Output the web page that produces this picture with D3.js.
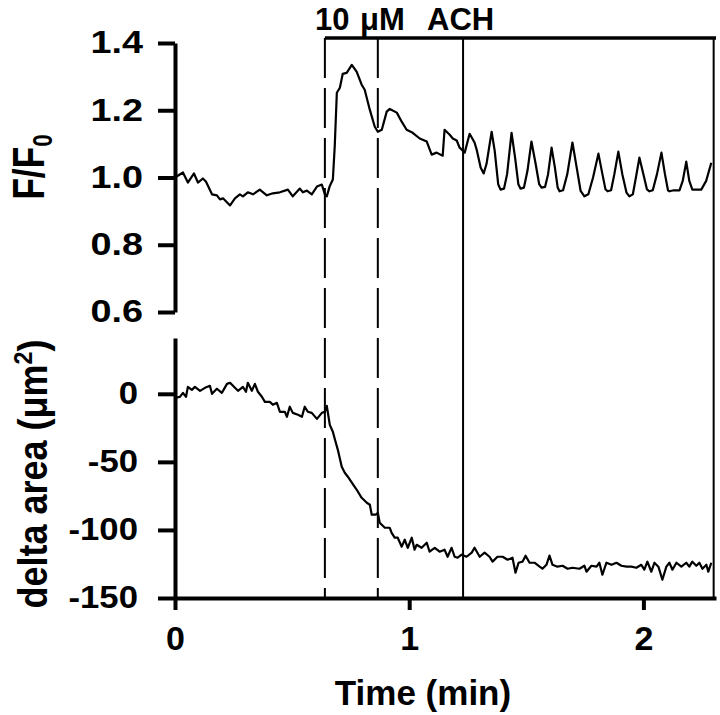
<!DOCTYPE html>
<html>
<head>
<meta charset="utf-8">
<script src="https://cdn.jsdelivr.net/npm/d3@7"></script>
<style>
  body { margin: 0; background: #fff; }
  svg { display: block; font-family: "Liberation Sans", Arial, sans-serif; font-weight: bold; }
  .axis path, .axis line { stroke: #000; stroke-width: 4; }
  .axis text { font-size: 31px; font-weight: bold; fill: #000; }
  .trace { fill: none; stroke: #000; stroke-width: 2.2; stroke-linejoin: round; }
</style>
</head>
<body>
<div id="chart"></div>
<script>
// time in minutes, F/F0 (upper trace)
const timeF = [0.000, 0.034, 0.055, 0.081, 0.098, 0.119, 0.132, 0.158, 0.179, 0.192, 0.205, 0.235, 0.256, 0.277, 0.290,
  0.311, 0.333, 0.362, 0.392, 0.418, 0.448, 0.482, 0.503, 0.533, 0.546, 0.563, 0.584, 0.606, 0.627, 0.640, 0.648,
  0.661, 0.674, 0.682, 0.691, 0.704, 0.716, 0.733, 0.755, 0.776, 0.797, 0.810, 0.832, 0.853, 0.866, 0.883, 0.904,
  0.917, 0.947, 0.968, 0.989, 1.015, 1.045, 1.075, 1.096, 1.117, 1.143, 1.151, 1.173, 1.186, 1.203, 1.215, 1.237,
  1.258, 1.279, 1.288, 1.305, 1.318, 1.330, 1.352, 1.365, 1.380, 1.390, 1.405, 1.418, 1.437, 1.452, 1.466, 1.475,
  1.490, 1.505, 1.522, 1.540, 1.555, 1.565, 1.580, 1.593, 1.608, 1.622, 1.634, 1.642, 1.657, 1.675, 1.697, 1.715,
  1.732, 1.748, 1.765, 1.785, 1.808, 1.825, 1.838, 1.847, 1.862, 1.876, 1.893, 1.910, 1.928, 1.940, 1.955, 1.968,
  1.983, 2.000, 2.015, 2.026, 2.040, 2.058, 2.077, 2.092, 2.105, 2.111, 2.130, 2.154, 2.168, 2.183, 2.196, 2.209,
  2.247, 2.268, 2.290];
const ratioF = [1.000, 1.015, 0.985, 1.012, 0.985, 0.997, 0.988, 0.950, 0.947, 0.935, 0.938, 0.917, 0.938, 0.950, 0.944,
  0.956, 0.950, 0.964, 0.947, 0.953, 0.956, 0.964, 0.944, 0.967, 0.956, 0.961, 0.950, 0.973, 0.979, 0.950, 0.944,
  0.975, 0.994, 1.092, 1.252, 1.267, 1.308, 1.311, 1.335, 1.314, 1.276, 1.261, 1.201, 1.151, 1.136, 1.142, 1.196,
  1.204, 1.193, 1.166, 1.142, 1.133, 1.116, 1.107, 1.068, 1.074, 1.065, 1.142, 1.127, 1.116, 1.110, 1.089, 1.074,
  1.130, 1.104, 1.083, 1.030, 1.012, 1.040, 1.136, 1.080, 0.980, 0.964, 0.967, 1.010, 1.133, 1.060, 0.980, 0.967,
  0.970, 1.020, 1.107, 1.040, 0.980, 0.970, 0.972, 1.010, 1.089, 1.030, 0.970, 0.959, 0.962, 1.010, 1.104, 1.030,
  0.960, 0.944, 0.950, 1.000, 1.071, 1.010, 0.965, 0.959, 0.962, 1.010, 1.077, 1.010, 0.955, 0.944, 0.950, 1.000,
  1.059, 1.010, 0.965, 0.959, 0.962, 1.010, 1.074, 1.010, 0.962, 0.959, 0.962, 0.962, 0.990, 1.047, 0.990, 0.964,
  0.964, 0.990, 1.044];

// time in minutes, delta area in um^2 (lower trace)
const timeA = [0.000, 0.021, 0.034, 0.047, 0.055, 0.072, 0.085, 0.107, 0.128, 0.149, 0.158, 0.179, 0.200, 0.222, 0.235,
  0.256, 0.269, 0.290, 0.303, 0.311, 0.328, 0.341, 0.354, 0.371, 0.384, 0.405, 0.418, 0.435, 0.448, 0.469, 0.478,
  0.490, 0.503, 0.525, 0.542, 0.554, 0.567, 0.584, 0.606, 0.627, 0.640, 0.648, 0.661, 0.674, 0.682, 0.695, 0.712,
  0.725, 0.738, 0.755, 0.776, 0.797, 0.819, 0.832, 0.840, 0.857, 0.866, 0.874, 0.896, 0.917, 0.925, 0.938, 0.951,
  0.968, 0.981, 0.994, 1.011, 1.023, 1.032, 1.053, 1.075, 1.087, 1.109, 1.130, 1.151, 1.164, 1.181, 1.194, 1.207,
  1.224, 1.245, 1.267, 1.279, 1.301, 1.322, 1.343, 1.356, 1.377, 1.399, 1.420, 1.441, 1.454, 1.467, 1.484, 1.497,
  1.514, 1.535, 1.557, 1.569, 1.586, 1.599, 1.612, 1.633, 1.655, 1.676, 1.697, 1.727, 1.748, 1.757, 1.778, 1.800,
  1.812, 1.825, 1.842, 1.864, 1.885, 1.906, 1.928, 1.949, 1.970, 1.991, 2.004, 2.017, 2.034, 2.047, 2.064, 2.081,
  2.098, 2.111, 2.124, 2.141, 2.162, 2.183, 2.196, 2.209, 2.226, 2.239, 2.252, 2.269, 2.277, 2.290];
const deltaA = [-2.9, -2.2, 0.7, -2.2, 5.1, 2.9, 5.1, 2.2, 4.4, 5.9, 0.0, 3.7, 0.7, 7.3, 8.1,
  4.4, 2.2, 5.1, 1.5, 8.1, 2.2, 7.3, 1.5, -2.2, -5.9, -5.9, -8.1, -6.6, -13.2, -13.2, -16.9,
  -9.5, -14.0, -15.4, -16.9, -9.5, -13.2, -14.0, -18.4, -14.0, -13.2, -8.8, -22.8, -27.9, -33.0, -41.0, -53.6,
  -58.0, -60.9, -65.3, -70.5, -76.4, -80.0, -81.5, -88.8, -88.8, -87.4, -94.7, -98.4, -98.4, -102.1, -105.7, -105.7,
  -112.3, -107.2, -113.1, -105.7, -114.5, -110.9, -113.1, -109.4, -116.0, -113.1, -116.0, -114.5, -119.7, -113.1, -119.7, -120.4,
  -118.2, -119.7, -116.7, -113.1, -119.7, -116.7, -119.7, -123.3, -119.7, -119.7, -121.9, -120.4, -131.4, -124.1, -123.3, -118.9,
  -124.1, -124.1, -127.0, -128.5, -125.6, -118.9, -125.6, -127.0, -126.3, -128.5, -127.8, -128.5, -126.3, -130.7, -126.3, -127.0,
  -124.1, -132.9, -124.1, -125.6, -124.1, -126.3, -127.0, -127.0, -127.8, -125.6, -129.2, -123.3, -130.7, -124.1, -127.0, -136.6,
  -127.0, -124.1, -129.2, -124.1, -127.0, -124.1, -127.0, -123.3, -126.3, -124.1, -128.5, -125.6, -130.7, -124.1];

const yTicksTop = [0.6, 0.8, 1.0, 1.2, 1.4];
const yTicksBottom = [-150, -100, -50, 0];
const xTicks = [0, 1, 2];
const dashedTimes = [0.64, 0.866];
const solidTimes = [1.23, 2.30];
const drugWindow = [0.64, 2.31];
const drugLabel = ["10", "\u03bcM", "ACH"];

const width = 720;
const height = 715;

const svg = d3.select("#chart").append("svg").attr("width", width).attr("height", height);

const x = d3.scaleLinear().domain([0, 2.31]).range([175, 716]);
const yTop = d3.scaleLinear().domain([0.6, 1.4]).range([312, 43]);
const yBot = d3.scaleLinear().domain([-150, 41]).range([598, 338]);

// marker lines across both panels
const barY = 38;
svg.append("g")
  .selectAll("line")
  .data(dashedTimes)
  .join("line")
  .attr("x1", (d) => x(d))
  .attr("x2", (d) => x(d))
  .attr("y1", barY)
  .attr("y2", yBot(-150))
  .attr("stroke", "#000")
  .attr("stroke-width", 2)
  .attr("stroke-dasharray", "40,10");

svg.append("g")
  .selectAll("line")
  .data(solidTimes)
  .join("line")
  .attr("x1", (d) => x(d))
  .attr("x2", (d) => x(d))
  .attr("y1", barY)
  .attr("y2", yBot(-150))
  .attr("stroke", "#000")
  .attr("stroke-width", 2);

svg.append("line")
  .attr("x1", x(drugWindow[0]))
  .attr("x2", x(drugWindow[1]))
  .attr("y1", barY)
  .attr("y2", barY)
  .attr("stroke", "#000")
  .attr("stroke-width", 3.5);

const label = svg.append("text").attr("y", 30).attr("font-size", 31).attr("font-weight", "bold");
const labelX = [315, 360, 427];
drugLabel.forEach((s, i) => label.append("tspan").attr("x", labelX[i]).text(s));

// traces
const topData = timeF.map((t, i) => [t, ratioF[i]]);
const botData = timeA.map((t, i) => [t, deltaA[i]]);

svg.append("path")
  .datum(topData)
  .attr("class", "trace")
  .attr("d", d3.line().x((d) => x(d[0])).y((d) => yTop(d[1])));

svg.append("path")
  .datum(botData)
  .attr("class", "trace")
  .attr("d", d3.line().x((d) => x(d[0])).y((d) => yBot(d[1])));

// axes
function widenLabels(k) {
  // tick labels in the figure are drawn wider than the font
  return (g) =>
    g.selectAll("text").each(function () {
      const t = d3.select(this);
      const tx = +t.attr("x");
      t.attr("x", 0).attr("transform", `translate(${tx},0) scale(${k},1)`);
    });
}

svg.append("g")
  .attr("class", "axis")
  .attr("transform", `translate(${x(0)},0)`)
  .call(d3.axisLeft(yTop).tickValues(yTicksTop).tickFormat(d3.format(".1f")).tickSize(17).tickSizeOuter(0).tickPadding(15))
  .attr("font-size", null)
  .attr("font-family", null)
  .call(widenLabels(1.22));

svg.append("g")
  .attr("class", "axis")
  .attr("transform", `translate(${x(0)},0)`)
  .call(d3.axisLeft(yBot).tickValues(yTicksBottom).tickFormat((d) => String(d)).tickSize(17).tickSizeOuter(0).tickPadding(20))
  .attr("font-size", null)
  .attr("font-family", null)
  .call(widenLabels(1.12));

const xAxis = svg.append("g")
  .attr("class", "axis")
  .attr("transform", `translate(0,${yBot(-150)})`)
  .call(d3.axisBottom(x).tickValues(xTicks).tickFormat((d) => String(d)).tickSize(12).tickSizeOuter(0).tickPadding(16))
  .attr("font-size", null)
  .attr("font-family", null);
xAxis.selectAll("text").style("font-size", "34px");

// axis titles
svg.append("text")
  .attr("x", 423)
  .attr("y", 705)
  .attr("text-anchor", "middle")
  .attr("font-size", 35)
  .text("Time (min)");

const fLabel = svg.append("text")
  .attr("transform", "translate(44,167) rotate(-90) scale(0.8,1)")
  .attr("text-anchor", "middle")
  .attr("font-size", 44);
fLabel.append("tspan").text("F/F");
fLabel.append("tspan").attr("font-size", 28).attr("dy", 8).text("0");

const aLabel = svg.append("text")
  .attr("transform", "translate(47,474) rotate(-90) scale(0.9,1)")
  .attr("text-anchor", "middle")
  .attr("font-size", 40);
aLabel.append("tspan").text("delta area (\u03bcm");
aLabel.append("tspan").attr("font-size", 26).attr("dy", -15).text("2");
aLabel.append("tspan").attr("dy", 15).text(")");
</script>
</body>
</html>
